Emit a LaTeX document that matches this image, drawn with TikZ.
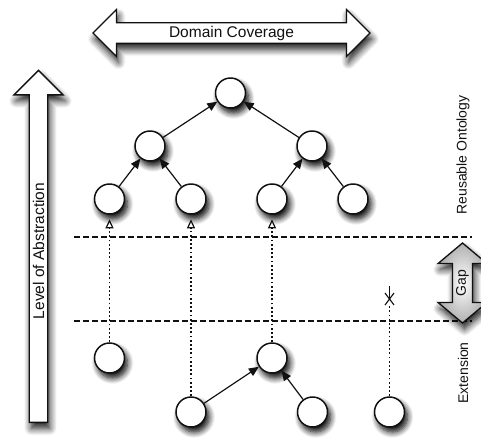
\documentclass[tikz,border=0pt]{standalone}
\usepackage{fontspec}
\setmainfont{Liberation Sans}
\usepackage{tikz}
\usetikzlibrary{arrows.meta,positioning,shapes.arrows,shapes.misc,shadows.blur}
\usepackage{xcolor}
\definecolor{ink}{HTML}{111111}
\definecolor{gapgrey}{HTML}{B0B0B0}
\tikzset{
  >={Triangle[length=10pt,width=8.5pt]},
  every node/.style={font=\fontsize{15.5}{18}\selectfont,text=ink},
  concept/.style={circle,draw=ink,line width=1.5pt,fill=white,minimum size=30pt,inner sep=0pt,
    blur shadow={shadow xshift=3pt,shadow yshift=-5pt,shadow blur radius=6pt,shadow opacity=100,shadow blur steps=8}},
  bigarrow/.style={draw=ink,line width=1.3pt,fill=white,inner sep=0pt,
    blur shadow={shadow xshift=2pt,shadow yshift=-6pt,shadow blur radius=7pt,shadow opacity=90,shadow blur steps=8}},
  isa/.style={->,line width=1.2pt,draw=ink},
  dots/.style={line width=1.2pt,dash pattern=on 1.8pt off 2.4pt,draw=ink},
  mapsto/.style={dots,-{Triangle[open,length=9pt,width=8pt]},shorten >=4.5pt},
  level/.style={dash pattern=on 5.5pt off 3.5pt,line width=1.2pt,draw=ink},
  side/.style={rotate=90,font=\fontsize{14}{17}\selectfont},
}

\begin{document}
\begin{tikzpicture}[x=1pt,y=-1pt]
\useasboundingbox (0,0) rectangle (481,437);

% axes
\node[bigarrow,double arrow,double arrow head extend=10pt,double arrow tip angle=90,
  minimum width=47pt,minimum height=277pt] (coverage) at (231.5,33) {Domain Coverage};
\node[bigarrow,single arrow,rotate=90,single arrow head extend=10.5pt,single arrow tip angle=90,
  minimum width=49pt,minimum height=352pt] (abstraction) at (38.5,251) {Level of Abstraction};

% level separators
\coordinate (sepTL) at (74,237);
\coordinate (sepTR) at (472,237);
\coordinate (sepBL) at (74,321);
\coordinate (sepBR) at (472,321);
\draw[level] (sepTL) -- (sepTR);
\draw[level] (sepBL) -- (sepBR);

\node[bigarrow,double arrow,rotate=90,shading=radial,inner color=white,outer color=gapgrey,
  double arrow head extend=10pt,double arrow tip angle=100,
  minimum width=49pt,minimum height=80pt,font=\fontsize{14}{17}\selectfont] (gap) at (462.5,283) {Gap};

\node[side] (reusable) at (463,155) {Reusable Ontology};
\node[side] (extension) at (463,373) {Extension};

% reusable ontology
\node[concept] (root) at (230.5,93) {};
\node[concept] (midL) at (150,146) {};
\node[concept] (midR) at (312,146) {};
\node[concept] (leafA) at (109.5,199) {};
\node[concept] (leafB) at (191,199) {};
\node[concept] (leafC) at (272,199) {};
\node[concept] (leafD) at (353,199) {};

\draw[isa] (midL) -- (root);
\draw[isa] (midR) -- (root);
\draw[isa] (leafA) -- (midL);
\draw[isa] (leafB) -- (midL);
\draw[isa] (leafC) -- (midR);
\draw[isa] (leafD) -- (midR);

% extension
\node[concept] (extA) at (109.5,358) {};
\node[concept] (extB) at (272,358) {};
\node[concept] (extC) at (191,412) {};
\node[concept] (extD) at (312.5,412) {};
\node[concept] (extE) at (389.5,412) {};

\draw[isa] (extC) -- (extB);
\draw[isa] (extD) -- (extB);

% mappings into the reusable ontology
\draw[mapsto] (extA) -- (leafA);
\draw[mapsto] (extC) -- (leafB);
\draw[mapsto] (extB) -- (leafC);

\node[cross out,draw=ink,line width=1.1pt,minimum width=8pt,minimum height=11pt,inner sep=0pt] (cut) at (389.5,299) {};
\draw[ink,line width=1.1pt] (cut.center) -- ++(0,-13);
\draw[dots] (extE) -- (cut.south);

\end{tikzpicture}
\end{document}
